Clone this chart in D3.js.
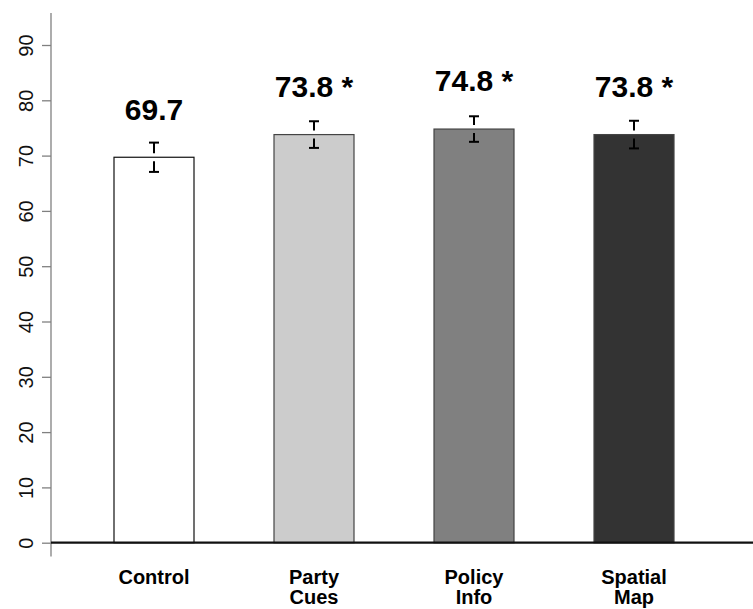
<!DOCTYPE html>
<html>
<head>
<meta charset="utf-8">
<script src="https://cdn.jsdelivr.net/npm/d3@7"></script>
<style>
  html, body { margin: 0; padding: 0; background: #fff; }
  svg { display: block; }
  text { font-family: "Liberation Sans", Arial, Helvetica, sans-serif; }
</style>
</head>
<body>
<svg id="chart" width="753" height="609"></svg>
<script>
// Treatment groups (two-line labels split on "\n")
const categories = ["Control", "Party\nCues", "Policy\nInfo", "Spatial\nMap"];
// Group means and half-widths of their error bars
const means = [69.7, 73.8, 74.8, 73.8];
const errors = [2.65, 2.41, 2.31, 2.5];
// Significance marker appended to the value label
const marks = ["", "*", "*", "*"];
// Bar fills, light to dark
const fills = ["#ffffff", "#cccccc", "#808080", "#333333"];
// Y axis ticks
const yTicks = [0, 10, 20, 30, 40, 50, 60, 70, 80, 90];

const svg = d3.select("#chart");
const W = 753, H = 609;
const axisX = 51;

const y = d3.scaleLinear().domain([0, 90]).range([542.7, 45]);
const x = d3.scaleBand()
  .domain(categories)
  .range([74, 714])
  .paddingInner(0.5)
  .paddingOuter(0.25);

svg.append("rect").attr("width", W).attr("height", H).attr("fill", "#fff");

// Bars
svg.append("g").selectAll("rect")
  .data(categories)
  .join("rect")
  .attr("x", d => x(d))
  .attr("y", (d, i) => y(means[i]))
  .attr("width", x.bandwidth())
  .attr("height", (d, i) => y(0) - y(means[i]))
  .attr("fill", (d, i) => fills[i])
  .attr("stroke", (d, i) => i === 0 ? "#111" : "#444")
  .attr("stroke-width", 1.2);

// Error bars, with a small gap around the mean
const gap = 4, capHalf = 5;
const eb = svg.append("g").attr("stroke", "#000").attr("stroke-width", 2).attr("fill", "none");
categories.forEach((c, i) => {
  const cx = x(c) + x.bandwidth() / 2;
  const yHi = y(means[i] + errors[i]);
  const yLo = y(means[i] - errors[i]);
  const yM = y(means[i]);
  eb.append("line").attr("x1", cx).attr("x2", cx).attr("y1", yHi).attr("y2", yM - gap);
  eb.append("line").attr("x1", cx).attr("x2", cx).attr("y1", yM + gap).attr("y2", yLo);
  eb.append("line").attr("x1", cx - capHalf).attr("x2", cx + capHalf).attr("y1", yHi).attr("y2", yHi);
  eb.append("line").attr("x1", cx - capHalf).attr("x2", cx + capHalf).attr("y1", yLo).attr("y2", yLo);
});

// Value labels above each bar
svg.append("g").selectAll("text")
  .data(categories)
  .join("text")
  .attr("x", d => x(d) + x.bandwidth() / 2)
  .attr("y", (d, i) => y(means[i] + 6.8))
  .attr("text-anchor", "middle")
  .attr("font-size", 30)
  .attr("font-weight", "bold")
  .attr("fill", "#000")
  .text((d, i) => means[i].toFixed(1) + (marks[i] ? " " + marks[i] : ""));

// Y axis
const yAxis = d3.axisLeft(y).tickValues(yTicks).tickSize(9).tickFormat(d3.format("d"));
const gy = svg.append("g").attr("transform", `translate(${axisX},0)`).call(yAxis);
gy.select(".domain").remove();
gy.selectAll(".tick line").attr("stroke", "#808080").attr("stroke-width", 1.3);
gy.selectAll(".tick text")
  .attr("transform", "rotate(-90)")
  .attr("x", 0)
  .attr("y", -18)
  .attr("dy", 0)
  .attr("text-anchor", "middle")
  .attr("font-size", 20)
  .attr("font-family", "Liberation Sans, Arial, sans-serif")
  .attr("fill", "#111");
svg.append("line")
  .attr("x1", axisX).attr("x2", axisX)
  .attr("y1", y(-2.5)).attr("y2", y(95.8))
  .attr("stroke", "#808080").attr("stroke-width", 1.3);

// Baseline
svg.append("line")
  .attr("x1", axisX).attr("x2", W)
  .attr("y1", y(0)).attr("y2", y(0))
  .attr("stroke", "#111").attr("stroke-width", 2.2);

// Category labels
const gx = svg.append("g");
categories.forEach(c => {
  const t = gx.append("text")
    .attr("x", x(c) + x.bandwidth() / 2)
    .attr("y", 584)
    .attr("text-anchor", "middle")
    .attr("font-size", 20)
    .attr("font-weight", "bold")
    .attr("fill", "#000");
  c.split("\n").forEach((line, j) => {
    t.append("tspan")
      .attr("x", x(c) + x.bandwidth() / 2)
      .attr("dy", j === 0 ? 0 : 20)
      .text(line);
  });
});
</script>
</body>
</html>
